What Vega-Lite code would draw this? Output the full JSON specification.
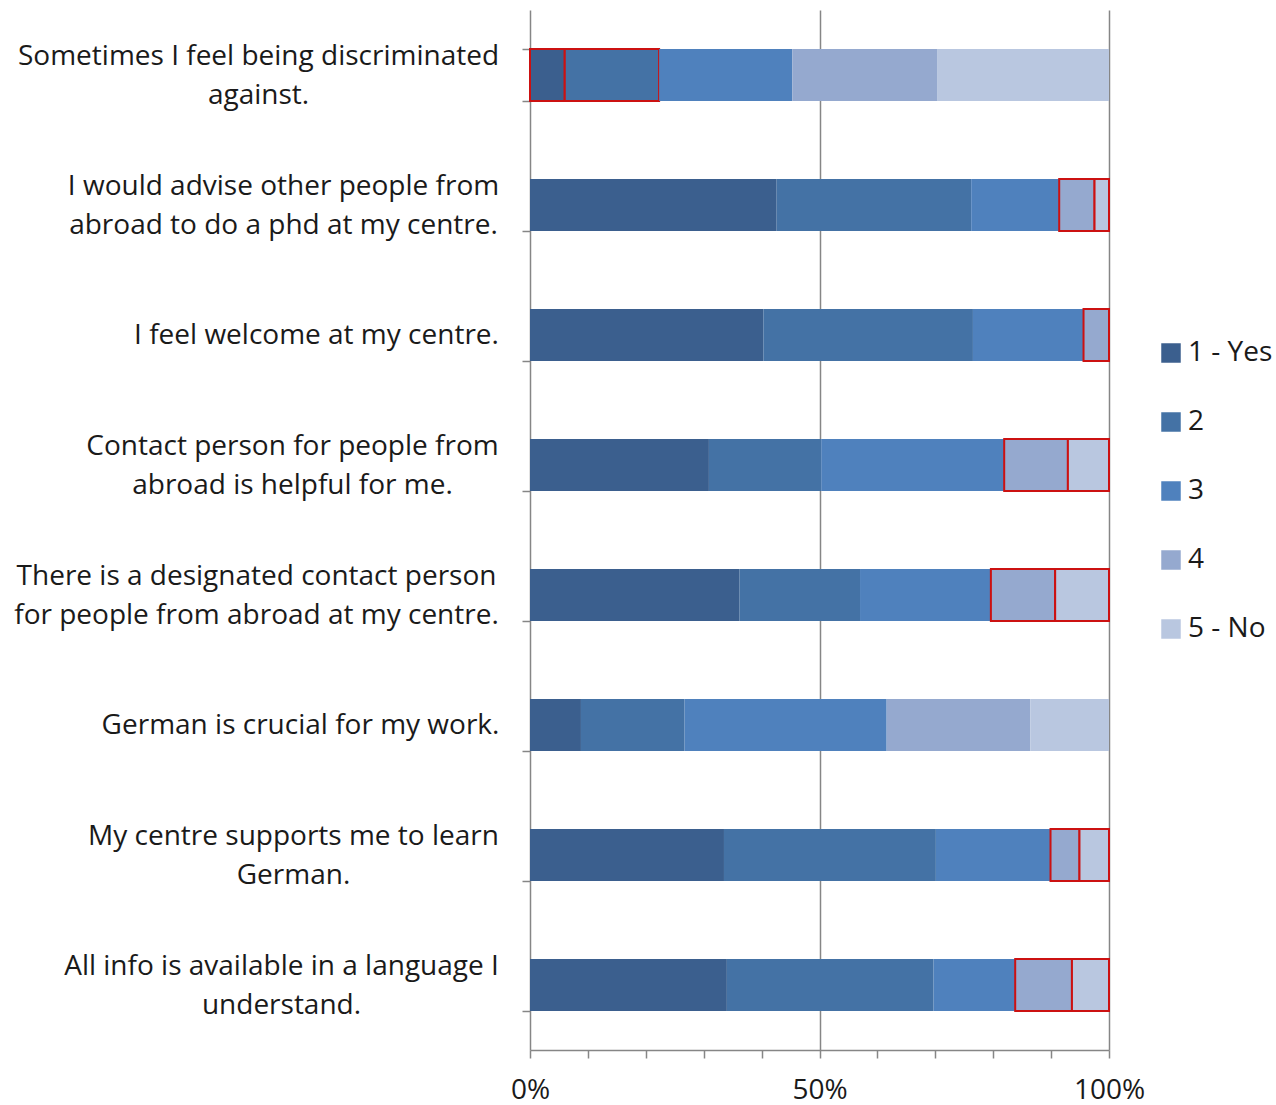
{
  "$schema": "https://vega.github.io/schema/vega-lite/v6.json",
  "autosize": {"type": "none"},
  "width": 579,
  "height": 1040,
  "padding": {"left": 530, "top": 10, "right": 167, "bottom": 55},
  "background": "white",
  "config": {"view": {"stroke": null}, "font": "Open Sans"},
  "data": {"values": [
    {"q": "Sometimes I feel being discriminated\nagainst.", "level": 1, "answer": "1 - Yes", "share": 6.0, "flag": true},
    {"q": "Sometimes I feel being discriminated\nagainst.", "level": 2, "answer": "2", "share": 16.3, "flag": true},
    {"q": "Sometimes I feel being discriminated\nagainst.", "level": 3, "answer": "3", "share": 23.0, "flag": false},
    {"q": "Sometimes I feel being discriminated\nagainst.", "level": 4, "answer": "4", "share": 25.0, "flag": false},
    {"q": "Sometimes I feel being discriminated\nagainst.", "level": 5, "answer": "5 - No", "share": 29.7, "flag": false},
    {"q": "I would advise other people from\nabroad to do a phd at my centre.", "level": 1, "answer": "1 - Yes", "share": 42.6, "flag": false},
    {"q": "I would advise other people from\nabroad to do a phd at my centre.", "level": 2, "answer": "2", "share": 33.6, "flag": false},
    {"q": "I would advise other people from\nabroad to do a phd at my centre.", "level": 3, "answer": "3", "share": 15.2, "flag": false},
    {"q": "I would advise other people from\nabroad to do a phd at my centre.", "level": 4, "answer": "4", "share": 6.1, "flag": true},
    {"q": "I would advise other people from\nabroad to do a phd at my centre.", "level": 5, "answer": "5 - No", "share": 2.5, "flag": true},
    {"q": "I feel welcome at my centre.", "level": 1, "answer": "1 - Yes", "share": 40.3, "flag": false},
    {"q": "I feel welcome at my centre.", "level": 2, "answer": "2", "share": 36.2, "flag": false},
    {"q": "I feel welcome at my centre.", "level": 3, "answer": "3", "share": 19.1, "flag": false},
    {"q": "I feel welcome at my centre.", "level": 4, "answer": "4", "share": 4.4, "flag": true},
    {"q": "Contact person for people from\nabroad is helpful for me.", "level": 1, "answer": "1 - Yes", "share": 30.9, "flag": false},
    {"q": "Contact person for people from\nabroad is helpful for me.", "level": 2, "answer": "2", "share": 19.4, "flag": false},
    {"q": "Contact person for people from\nabroad is helpful for me.", "level": 3, "answer": "3", "share": 31.6, "flag": false},
    {"q": "Contact person for people from\nabroad is helpful for me.", "level": 4, "answer": "4", "share": 11.0, "flag": true},
    {"q": "Contact person for people from\nabroad is helpful for me.", "level": 5, "answer": "5 - No", "share": 7.1, "flag": true},
    {"q": "There is a designated contact person\nfor people from abroad at my centre.", "level": 1, "answer": "1 - Yes", "share": 36.2, "flag": false},
    {"q": "There is a designated contact person\nfor people from abroad at my centre.", "level": 2, "answer": "2", "share": 20.8, "flag": false},
    {"q": "There is a designated contact person\nfor people from abroad at my centre.", "level": 3, "answer": "3", "share": 22.6, "flag": false},
    {"q": "There is a designated contact person\nfor people from abroad at my centre.", "level": 4, "answer": "4", "share": 11.1, "flag": true},
    {"q": "There is a designated contact person\nfor people from abroad at my centre.", "level": 5, "answer": "5 - No", "share": 9.3, "flag": true},
    {"q": "German is crucial for my work.", "level": 1, "answer": "1 - Yes", "share": 8.8, "flag": false},
    {"q": "German is crucial for my work.", "level": 2, "answer": "2", "share": 17.9, "flag": false},
    {"q": "German is crucial for my work.", "level": 3, "answer": "3", "share": 34.9, "flag": false},
    {"q": "German is crucial for my work.", "level": 4, "answer": "4", "share": 24.8, "flag": false},
    {"q": "German is crucial for my work.", "level": 5, "answer": "5 - No", "share": 13.6, "flag": false},
    {"q": "My centre supports me to learn\nGerman.", "level": 1, "answer": "1 - Yes", "share": 33.5, "flag": false},
    {"q": "My centre supports me to learn\nGerman.", "level": 2, "answer": "2", "share": 36.6, "flag": false},
    {"q": "My centre supports me to learn\nGerman.", "level": 3, "answer": "3", "share": 19.8, "flag": false},
    {"q": "My centre supports me to learn\nGerman.", "level": 4, "answer": "4", "share": 5.0, "flag": true},
    {"q": "My centre supports me to learn\nGerman.", "level": 5, "answer": "5 - No", "share": 5.1, "flag": true},
    {"q": "All info is available in a language I\nunderstand.", "level": 1, "answer": "1 - Yes", "share": 34.0, "flag": false},
    {"q": "All info is available in a language I\nunderstand.", "level": 2, "answer": "2", "share": 35.7, "flag": false},
    {"q": "All info is available in a language I\nunderstand.", "level": 3, "answer": "3", "share": 14.1, "flag": false},
    {"q": "All info is available in a language I\nunderstand.", "level": 4, "answer": "4", "share": 9.8, "flag": true},
    {"q": "All info is available in a language I\nunderstand.", "level": 5, "answer": "5 - No", "share": 6.4, "flag": true}
  ]},
  "mark": {"type": "bar", "strokeWidth": 2},
  "encoding": {
    "y": {
      "field": "q", "type": "nominal", "title": null,
      "sort": [
        "Sometimes I feel being discriminated\nagainst.",
        "I would advise other people from\nabroad to do a phd at my centre.",
        "I feel welcome at my centre.",
        "Contact person for people from\nabroad is helpful for me.",
        "There is a designated contact person\nfor people from abroad at my centre.",
        "German is crucial for my work.",
        "My centre supports me to learn\nGerman.",
        "All info is available in a language I\nunderstand."
      ],
      "scale": {"paddingInner": 0.6, "paddingOuter": 0.3},
      "axis": {
        "labelExpr": "split(datum.label, '\\n')",
        "labelFontSize": 28,
        "labelLineHeight": 39,
        "labelColor": "#1a1a1a",
        "labelLimit": 700,
        "labelAlign": "center",
        "labelBaseline": {"condition": {"test": "indexof('' + datum.value, '\\n') >= 0", "value": "line-bottom"}, "value": "middle"},
        "labelPadding": {"expr": "indexof('' + datum.value, 'I feel') == 0 ? 206 : indexof('' + datum.value, 'German is') == 0 ? 222 : indexof('' + datum.value, 'Sometimes') == 0 ? 264 : indexof('' + datum.value, 'I would') == 0 ? 239 : indexof('' + datum.value, 'Contact') == 0 ? 230 : indexof('' + datum.value, 'There') == 0 ? 266 : indexof('' + datum.value, 'My centre') == 0 ? 229 : 241"},
        "tickBand": "extent",
        "tickSize": 8,
        "tickColor": "#868686",
        "tickWidth": 1.5,
        "domainColor": "#868686",
        "domainWidth": 1.5
      }
    },
    "x": {
      "field": "share", "type": "quantitative", "stack": "normalize", "title": null,
      "scale": {"domain": [0, 1], "nice": false},
      "axis": {
        "values": [0, 0.1, 0.2, 0.3, 0.4, 0.5, 0.6, 0.7, 0.8, 0.9, 1],
        "labelExpr": "datum.value == 0 || datum.value == 0.5 || datum.value == 1 ? format(datum.value, '.0%') : ''",
        "labelFontSize": 28,
        "labelColor": "#1a1a1a",
        "labelPadding": 18,
        "labelFlush": false,
        "tickSize": 8,
        "tickColor": "#868686",
        "tickWidth": 1.5,
        "domainColor": "#868686",
        "domainWidth": 1.5,
        "grid": true,
        "gridColor": "#868686",
        "gridWidth": 1.5,
        "gridOpacity": {"condition": {"test": "datum.value == 0.5 || datum.value == 1", "value": 1}, "value": 0}
      }
    },
    "order": {"field": "level", "type": "quantitative"},
    "color": {
      "field": "answer", "type": "nominal", "title": null,
      "scale": {
        "domain": ["1 - Yes", "2", "3", "4", "5 - No"],
        "range": ["#3B5F8E", "#4472A5", "#4F81BD", "#95A9CF", "#B9C7E0"]
      },
      "legend": {
        "orient": "none",
        "legendX": 627,
        "legendY": 329,
        "symbolType": "square",
        "symbolSize": 380,
        "symbolStrokeWidth": 0,
        "labelFontSize": 28,
        "labelColor": "#1a1a1a",
        "labelOffset": 3,
        "rowPadding": 41
      }
    },
    "stroke": {
      "condition": {"test": "datum.flag", "value": "#CC1111"},
      "value": null
    }
  }
}
